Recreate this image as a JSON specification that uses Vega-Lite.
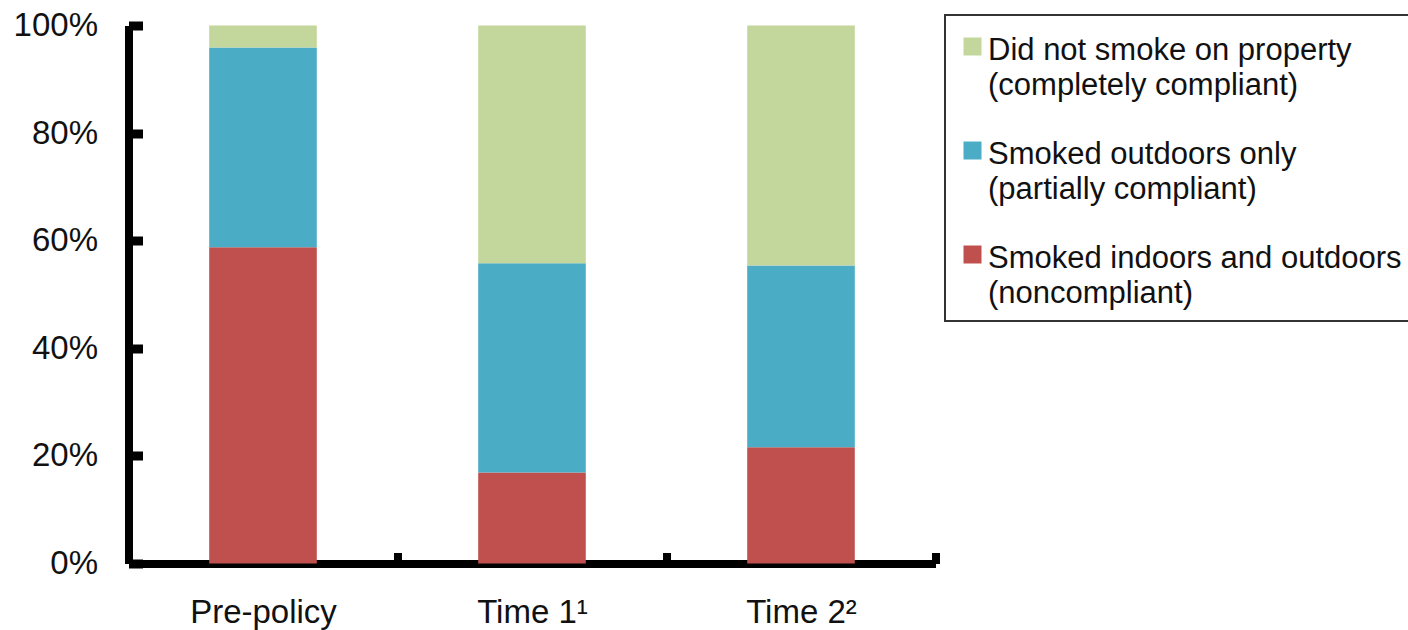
{
  "$schema": "https://vega.github.io/schema/vega-lite/v6.json",
  "width": 807,
  "height": 538,
  "autosize": {"type": "none"},
  "padding": {"left": 128.5, "top": 25.5, "right": 472.5, "bottom": 66.5},
  "background": "white",
  "data": {
    "values": [
      {"period": "Pre-policy", "group": "Smoked indoors and outdoors (noncompliant)", "rank": 1, "share": 58.8},
      {"period": "Pre-policy", "group": "Smoked outdoors only (partially compliant)", "rank": 2, "share": 37.1},
      {"period": "Pre-policy", "group": "Did not smoke on property (completely compliant)", "rank": 3, "share": 4.1},
      {"period": "Time 1¹", "group": "Smoked indoors and outdoors (noncompliant)", "rank": 1, "share": 16.9},
      {"period": "Time 1¹", "group": "Smoked outdoors only (partially compliant)", "rank": 2, "share": 38.9},
      {"period": "Time 1¹", "group": "Did not smoke on property (completely compliant)", "rank": 3, "share": 44.2},
      {"period": "Time 2²", "group": "Smoked indoors and outdoors (noncompliant)", "rank": 1, "share": 21.6},
      {"period": "Time 2²", "group": "Smoked outdoors only (partially compliant)", "rank": 2, "share": 33.8},
      {"period": "Time 2²", "group": "Did not smoke on property (completely compliant)", "rank": 3, "share": 44.6}
    ]
  },
  "mark": {"type": "bar", "width": {"band": 0.4}},
  "encoding": {
    "x": {
      "field": "period",
      "type": "nominal",
      "sort": ["Pre-policy", "Time 1¹", "Time 2²"],
      "scale": {"paddingInner": 0, "paddingOuter": 0},
      "axis": {
        "title": null,
        "labelAngle": 0,
        "tickBand": "extent",
        "tickSize": -11,
        "tickWidth": 8,
        "labelPadding": 44,
        "labelFontSize": 33,
        "labelBaseline": "top"
      }
    },
    "y": {
      "field": "share",
      "type": "quantitative",
      "stack": "zero",
      "scale": {"domain": [0, 100], "nice": false},
      "axis": {
        "title": null,
        "values": [0, 20, 40, 60, 80, 100],
        "labelExpr": "datum.value + '%'",
        "tickSize": -14,
        "tickWidth": 9,
        "labelPadding": 45,
        "labelFontSize": 33
      }
    },
    "color": {
      "field": "group",
      "type": "nominal",
      "scale": {
        "domain": [
          "Did not smoke on property (completely compliant)",
          "Smoked outdoors only (partially compliant)",
          "Smoked indoors and outdoors (noncompliant)"
        ],
        "range": ["#C3D69B", "#4BACC6", "#C0504D"]
      },
      "legend": {
        "title": " ",
        "titleFontSize": 4,
        "titlePadding": 0,
        "orient": "none",
        "legendX": 816.5,
        "legendY": -10.5,
        "labelExpr": "split(replace(datum.label, ' (', '\\n('), '\\n')",
        "labelLimit": 600,
        "labelFontSize": 31,
        "labelBaseline": "top",
        "labelOffset": 0,
        "symbolType": "square",
        "symbolSize": 324,
        "symbolStrokeWidth": 0,
        "symbolOpacity": 1,
        "rowPadding": 34,
        "padding": 12,
        "strokeColor": "#333333",
        "encode": {"labels": {"update": {"dy": {"value": -11}}}}
      }
    },
    "order": {"field": "rank", "type": "quantitative"}
  },
  "config": {
    "view": {"stroke": null},
    "font": "Liberation Sans",
    "axis": {
      "grid": false,
      "domainColor": "#000000",
      "domainWidth": 8,
      "tickColor": "#000000",
      "labelColor": "#111111",
      "labelFont": "Liberation Sans"
    },
    "legend": {
      "strokeWidth": 2,
      "labelColor": "#111111",
      "labelFont": "Liberation Sans"
    },
    "style": {"guide-label": {"lineHeight": 35.5}}
  }
}
